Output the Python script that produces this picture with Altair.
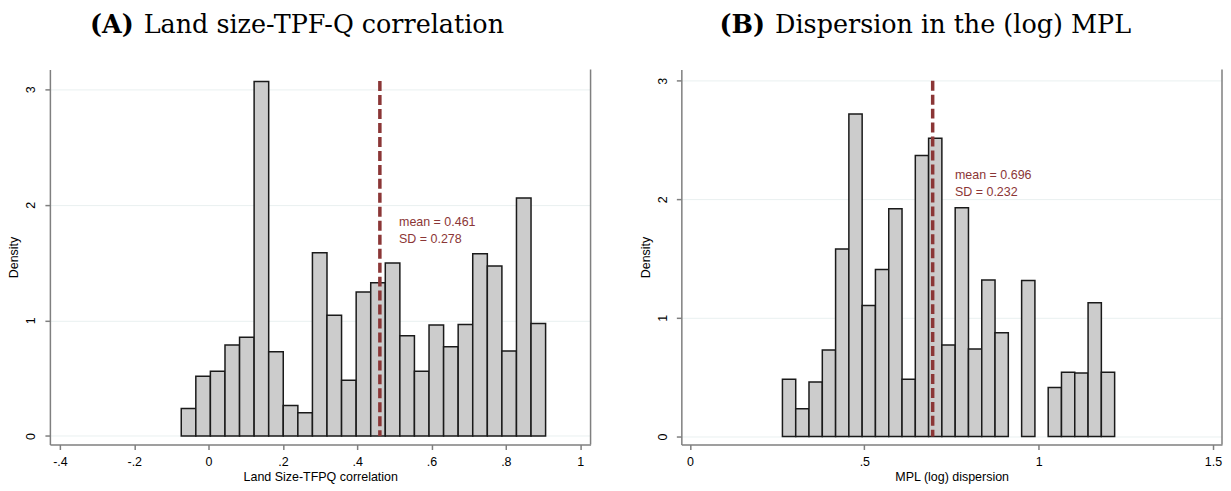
import altair as alt
import pandas as pd

# (A) land size - TFPQ correlation: bin edges and density of each bin
a_edges = [-0.0735, -0.0343, 0.0049, 0.0442, 0.0834, 0.1226, 0.1618, 0.2010, 0.2403,
           0.2795, 0.3187, 0.3579, 0.3972, 0.4364, 0.4756, 0.5148, 0.5540, 0.5933,
           0.6325, 0.6717, 0.7109, 0.7502, 0.7894, 0.8286, 0.8678, 0.9070]
a_density = [0.238, 0.517, 0.560, 0.787, 0.853, 3.066, 0.729, 0.264, 0.201, 1.585,
             1.045, 0.482, 1.246, 1.326, 1.496, 0.867, 0.560, 0.959, 0.772, 0.965,
             1.576, 1.470, 0.735, 2.059, 0.973]
a_mean, a_sd = 0.461, 0.278

# (B) dispersion in the (log) MPL
b_edges = [0.2650, 0.3031, 0.3412, 0.3794, 0.4175, 0.4556, 0.4937, 0.5318, 0.5700,
           0.6081, 0.6462, 0.6843, 0.7224, 0.7606, 0.7987, 0.8368, 0.8749, 0.9130,
           0.9512, 0.9893, 1.0274, 1.0655, 1.1036, 1.1418, 1.1799, 1.2180]
b_density = [0.482, 0.233, 0.460, 0.729, 1.581, 2.720, 1.105, 1.407, 1.920, 0.482,
             2.369, 2.515, 0.771, 1.929, 0.737, 1.320, 0.875, 0.0, 1.315, 0.0,
             0.412, 0.541, 0.535, 1.127, 0.541]
b_mean, b_sd = 0.696, 0.232

a_xticks = [-0.4, -0.2, 0, 0.2, 0.4, 0.6, 0.8, 1]
a_xlabels = ["-.4", "-.2", "0", ".2", ".4", ".6", ".8", "1"]
b_xticks = [0, 0.5, 1, 1.5]
b_xlabels = ["0", ".5", "1", "1.5"]
y_ticks = [0, 1, 2, 3]

SANS = "Liberation Sans, Arial, sans-serif"
SERIF = "DejaVu Serif"
RED = "#8b3636"
GREY = "#7f7f7f"
FS = 12.5
W, H = 542, 376

AX = dict(domainColor=GREY, domainWidth=1.5, tickColor=GREY, tickWidth=1.5, tickSize=5,
          labelFont=SANS, labelFontSize=FS, labelColor="black",
          titleFont=SANS, titleFontSize=FS, titleFontWeight="normal", titleColor="black")


def label_expr(ticks, labels):
    lab = ",".join("'%s'" % l for l in labels)
    tk = ",".join(str(t) for t in ticks)
    return "[%s][indexof([%s], datum.value)]" % (lab, tk)


def panel(edges, dens, mean, sd, xdom, ydom, xticks, xlabels, xtitle, tag, name,
          ann_x, ann_y, line_top):
    df = pd.DataFrame({"lo": edges[:-1], "hi": edges[1:], "density": dens})
    df["base"] = 0.0
    df = df[df.density > 0]

    xs = alt.Scale(domain=xdom, nice=False, zero=False)
    ys = alt.Scale(domain=ydom, nice=False, zero=False)
    xax = alt.Axis(values=xticks, labelExpr=label_expr(xticks, xlabels), title=xtitle,
                   grid=False, labelPadding=6, titlePadding=3, **AX)
    yax = alt.Axis(values=y_ticks, title="Density", grid=True, gridColor="#e9f0f0", gridWidth=1,
                   labelAngle=270, labelAlign="center", labelBaseline="bottom",
                   labelPadding=7, titlePadding=4, **AX)

    bars = alt.Chart(df).mark_rect(fill="#cccccc", stroke="#1a1a1a", strokeWidth=1.5).encode(
        x=alt.X("lo:Q", scale=xs, axis=xax),
        x2="hi:Q",
        y=alt.Y("density:Q", scale=ys, axis=yax),
        y2="base:Q",
    )

    # mean line, same field names so the shared axes keep their titles
    mline = alt.Chart(pd.DataFrame({"lo": [mean], "base": [0.0], "density": [line_top]})).mark_rule(
        color=RED, strokeWidth=3.5, strokeDash=[10, 4]
    ).encode(x=alt.X("lo:Q", scale=xs, axis=xax), y=alt.Y("density:Q", scale=ys, axis=yax),
             y2="base:Q")

    ann = alt.Chart(pd.DataFrame({"lo": [ann_x], "density": [ann_y],
                                  "t": ["mean = %.3f\nSD = %.3f" % (mean, sd)]})).mark_text(
        align="left", baseline="alphabetic", lineBreak="\n", lineHeight=17,
        font=SANS, fontSize=FS, color=RED
    ).encode(x=alt.X("lo:Q", scale=xs, axis=xax), y=alt.Y("density:Q", scale=ys, axis=yax),
             text="t:N")

    lab = pd.DataFrame({"tag": [tag], "name": [name]})
    frame = alt.Chart(lab).mark_rule(color=GREY, strokeWidth=1.5).encode(
        x=alt.value(W), y=alt.value(0), y2=alt.value(H))
    t1 = alt.Chart(lab).mark_text(align="right", baseline="alphabetic", font=SERIF, fontSize=25.5,
                                  fontWeight="bold", color="black").encode(
        x=alt.value(84), y=alt.value(-37), text="tag:N")
    t2 = alt.Chart(lab).mark_text(align="left", baseline="alphabetic", font=SERIF, fontSize=25.5,
                                  color="black").encode(
        x=alt.value(94), y=alt.value(-37), text="name:N")

    return alt.layer(bars, mline, ann, frame, t1, t2).properties(width=W, height=H)


left = panel(a_edges, a_density, a_mean, a_sd, [-0.427, 1.028], [-0.074, 3.171],
             a_xticks, a_xlabels, "Land Size-TFPQ correlation", "(A)",
             "Land size-TPF-Q correlation", 0.5125, 1.817, 3.07)
right = panel(b_edges, b_density, b_mean, b_sd, [-0.025, 1.526], [-0.068, 3.095],
              b_xticks, b_xlabels, "MPL (log) dispersion", "(B)",
              "Dispersion in the (log) MPL", 0.760, 2.172, 3.0)

chart = alt.hconcat(left, right, spacing=48).configure_view(stroke=None).properties(
    padding={"left": 0, "right": 0, "top": 4, "bottom": 0}
)

chart.save("out.html", embed_options={"renderer": "svg", "actions": False})
